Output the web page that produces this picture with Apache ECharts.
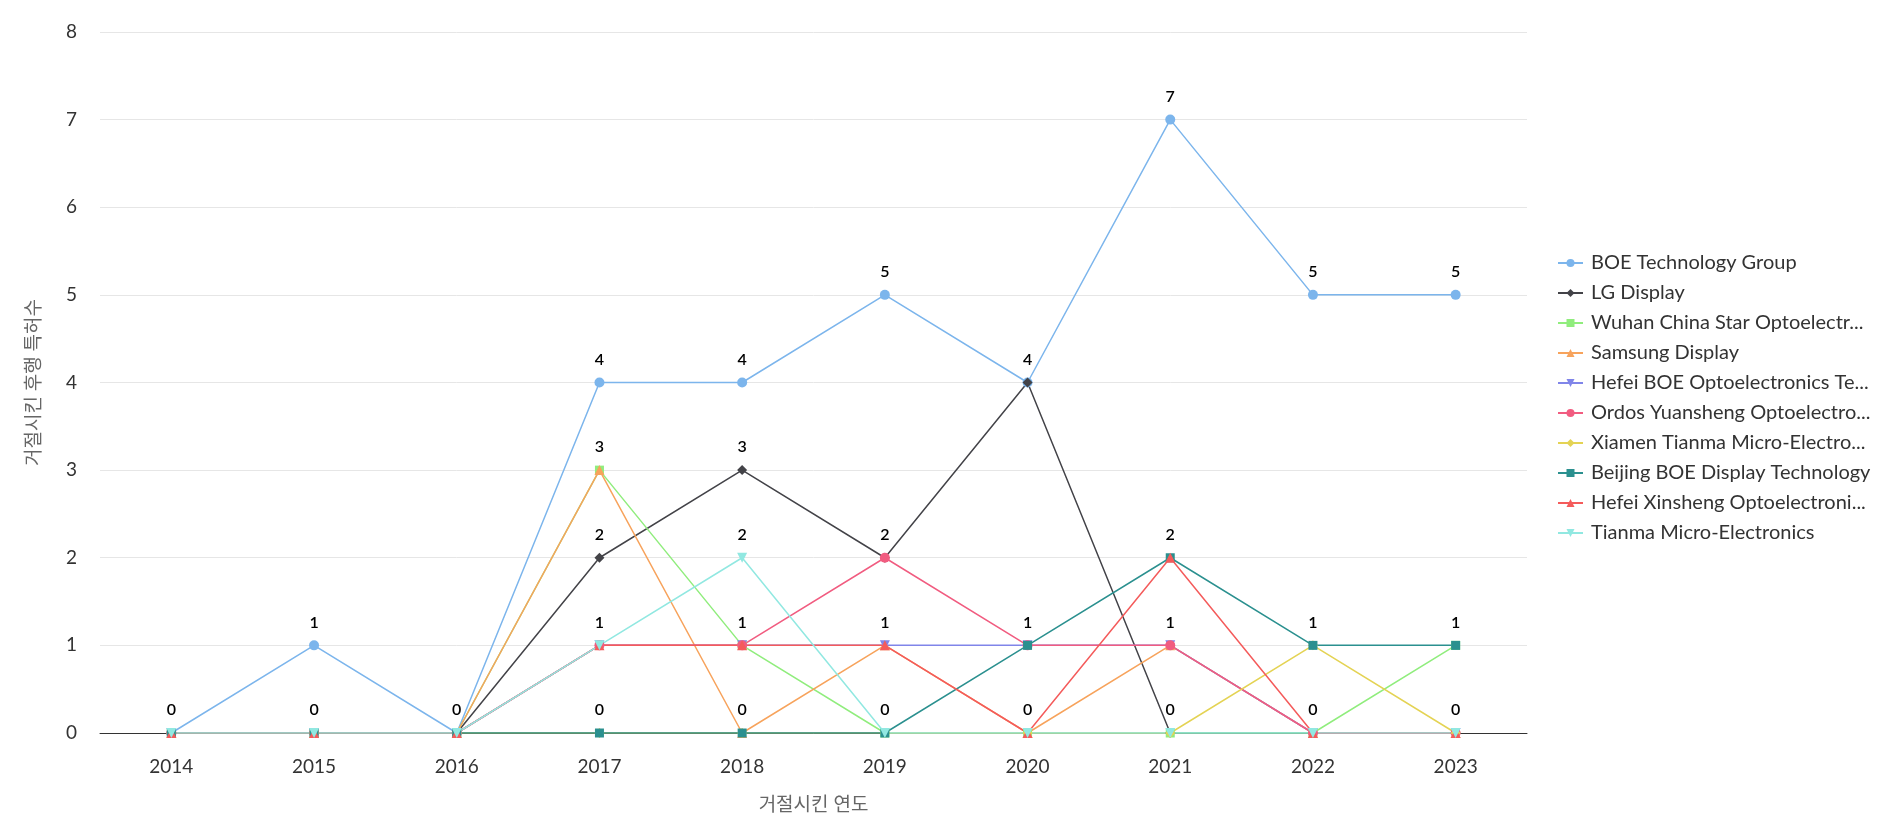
<!DOCTYPE html>
<html><head><meta charset="utf-8">
<script src="https://cdn.jsdelivr.net/npm/echarts@6/dist/echarts.min.js"></script>
<style>html,body{margin:0;padding:0;background:#fff}#c{width:1901px;height:819px}</style>
</head><body><div id="c"></div>
<script>
const categories = ['2014','2015','2016','2017','2018','2019','2020','2021','2022','2023'];
const seriesNames = ['BOE Technology Group','LG Display','Wuhan China Star Optoelectronics Technology','Samsung Display','Hefei BOE Optoelectronics Technology','Ordos Yuansheng Optoelectronics Technology','Xiamen Tianma Micro-Electronics','Beijing BOE Display Technology','Hefei Xinsheng Optoelectronics Technology','Tianma Micro-Electronics'];
const boe      = [0,1,0,4,4,5,4,7,5,5];
const lg       = [0,0,0,2,3,2,4,0,0,0];
const wuhan    = [0,0,0,3,1,0,0,0,0,1];
const samsung  = [0,0,0,3,0,1,0,1,0,0];
const hefeiBoe = [0,0,0,1,1,1,1,1,0,0];
const ordos    = [0,0,0,1,1,2,1,1,0,0];
const xiamen   = [0,0,0,0,0,0,0,0,1,0];
const beijing  = [0,0,0,0,0,0,1,2,1,1];
const xinsheng = [0,0,0,1,1,1,0,2,0,0];
const tianma   = [0,0,0,1,2,0,0,0,0,0];
const seriesValues = [boe,lg,wuhan,samsung,hefeiBoe,ordos,xiamen,beijing,xinsheng,tianma];
const colors = ['#7cb5ec','#434348','#90ed7d','#f7a35c','#8085e9','#f15c80','#e4d354','#2b908f','#f45b5b','#91e8e1'];
const symbols = ['circle','diamond','rect','triangle','path://M0,0 L10,0 L5,10 Z','circle','diamond','rect','triangle','path://M0,0 L10,0 L5,10 Z'];
const yTicks = [0,1,2,3,4,5,6,7,8];

const FONT = 'Lato, "Noto Sans CJK KR", sans-serif';
const chart = echarts.init(document.getElementById('c'));
chart.setOption({
  animation:false,
  color: colors,
  textStyle:{fontFamily:FONT},
  grid:{left:100,right:374,top:32,bottom:83,containLabel:false},
  legend:{
    orient:'vertical', left:1552, top:248, itemGap:10, itemWidth:25, itemHeight:10,
    textStyle:{fontSize:20,lineHeight:20,color:'#333',fontFamily:FONT,width:284,overflow:'truncate',ellipsis:'...',padding:[0,0,0,3]},
    data: seriesNames
  },
  xAxis:{
    type:'category', data:categories, boundaryGap:true,
    name:'거절시킨 연도', nameLocation:'middle', nameGap:62,
    nameTextStyle:{fontSize:19,color:'#666',fontFamily:FONT},
    axisLine:{lineStyle:{color:'#333',width:1}},
    axisTick:{show:false},
    axisLabel:{fontSize:19,color:'#333',margin:24}
  },
  yAxis:{
    type:'value', min:yTicks[0], max:yTicks[yTicks.length-1], interval:1,
    name:'거절시킨 후행 특허수', nameLocation:'middle', nameGap:57,
    nameTextStyle:{fontSize:19,color:'#666',fontFamily:FONT},
    axisLine:{show:false}, axisTick:{show:false},
    axisLabel:{fontSize:19,color:'#333',margin:23},
    splitLine:{lineStyle:{color:'#e6e6e6'}}
  },
  series: seriesNames.map((n,i)=>({
    name:n, type:'line', data:seriesValues[i],
    symbol:symbols[i], symbolSize:(symbols[i]==='circle'?10:(symbols[i]==='rect'?9:10)),
    showAllSymbol:true,
    lineStyle:{width:1.5,color:colors[i]},
    itemStyle:{color:colors[i]},
    label:{show:true,position:'top',distance:10,color:'#000',fontSize:16,fontWeight:600,fontFamily:FONT},
    labelLayout:{hideOverlap:true},
    emphasis:{disabled:true}
  }))
});
</script></body></html>
